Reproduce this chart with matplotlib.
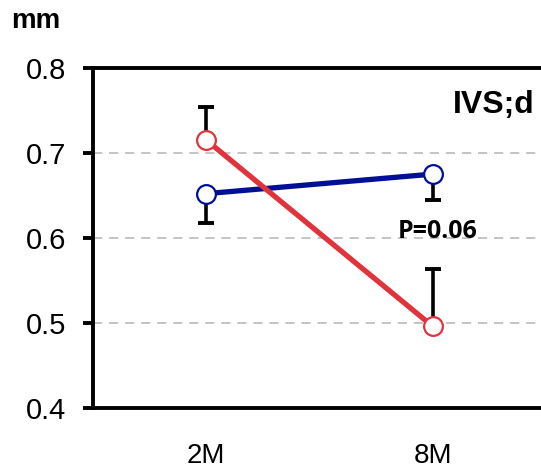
import numpy as np
import matplotlib
matplotlib.use('Agg')
import matplotlib.pyplot as plt

plt.rcParams['font.family'] = ['Liberation Sans', 'DejaVu Sans']

# data
groups = ['2M', '8M']
blue_mean = [0.652, 0.675]
blue_err = [0.034, 0.031]   # shown downward
red_mean = [0.715, 0.496]
red_err = [0.039, 0.067]    # shown upward
p_label = 'P=0.06'
panel = 'IVS;d'

x = np.arange(len(groups))
blue_lo = np.array(blue_mean) - np.array(blue_err)
red_hi = np.array(red_mean) + np.array(red_err)

fig = plt.figure(figsize=(5.41, 4.71), dpi=100)
ax = fig.add_axes([0.172, 0.134, 0.837, 0.722])

# one-sided error bars: stem + cap on the far end only
ax.vlines(x, blue_lo, blue_mean, color='black', lw=2.6, zorder=2)
ax.plot(x, blue_lo, ls='none', marker='_', ms=12, mew=2.8, color='black', zorder=2)
ax.vlines(x, red_mean, red_hi, color='black', lw=2.6, zorder=2)
ax.plot(x, red_hi, ls='none', marker='_', ms=12, mew=2.8, color='black', zorder=2)

ax.plot(x, blue_mean, color='#000f96', lw=3.8, marker='o', ms=13.5,
        mfc='white', mec='#000f96', mew=1.6, zorder=3)
ax.plot(x, red_mean, color='#e0333b', lw=3.8, marker='o', ms=13.5,
        mfc='white', mec='#e0333b', mew=1.6, zorder=4)

ax.set_xlim(-0.5, 1.5)
ax.set_ylim(0.4, 0.8)
ax.set_xticks(x)
ax.set_xticklabels(groups)
ax.set_yticks([0.4, 0.5, 0.6, 0.7, 0.8])
ax.set_yticklabels(['0.4', '0.5', '0.6', '0.7', '0.8'])

for v in [0.5, 0.6, 0.7]:
    ax.axhline(v, color='#b4b4b4', lw=1.1, ls=(0, (6, 4.5)), zorder=1)

for s in ['left', 'top', 'bottom']:
    ax.spines[s].set_linewidth(2.8)
ax.spines['right'].set_visible(False)

ax.tick_params(axis='y', length=7.5, width=2.8, pad=12, labelsize=21)
ax.tick_params(axis='x', length=0, pad=25, labelsize=20)

ax.text(1.02, 0.593, p_label, ha='center', va='bottom', fontsize=18,
        fontweight='bold', family=['Open Sans', 'DejaVu Sans'])
ax.text(0.975, 0.89, panel, transform=ax.transAxes, ha='right', va='center',
        fontsize=23, fontweight='bold')
fig.text(0.02, 0.955, 'mm', ha='left', va='center', fontsize=20,
         fontweight='bold')

fig.savefig('out.png', dpi=100)
